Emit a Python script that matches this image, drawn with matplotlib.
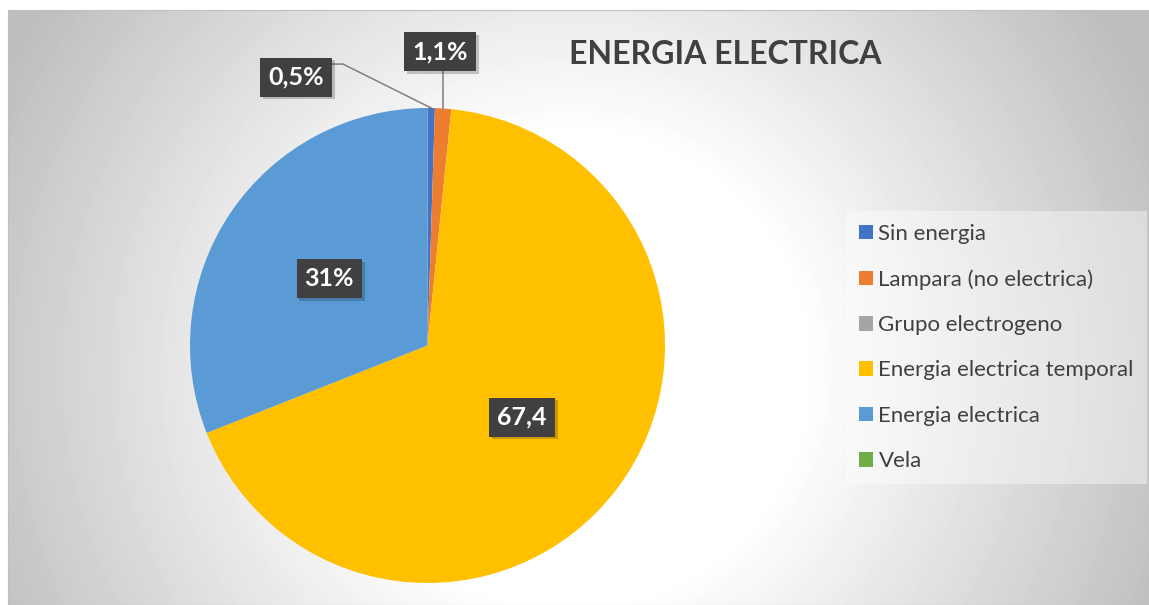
import numpy as np
import matplotlib.pyplot as plt
import matplotlib.patheffects as pe

# Data
categories = ['Sin energia', 'Lampara (no electrica)', 'Grupo electrogeno',
              'Energia electrica temporal', 'Energia electrica', 'Vela']
values = [0.5, 1.1, 0.0, 67.4, 31.0, 0.0]
value_labels = ['0,5%', '1,1%', '', '67,4', '31%', '']
colors = ['#4472C4', '#ED7D31', '#A5A5A5', '#FFC000', '#5B9BD5', '#70AD47']

# labels that sit outside the pie (offset in pie-radius units)
outer_pos = {'0,5%': (-0.554, 1.13), '1,1%': (0.053, 1.236)}

plt.rcParams['font.family'] = ['Lato', 'DejaVu Sans']

W, H = 1149, 605
fig = plt.figure(figsize=(W / 100, H / 100), dpi=100)
fig.patch.set_facecolor('white')

# Chart area with a soft radial gradient
bg = fig.add_axes([8 / W, 0, (W - 8) / W, (H - 10) / H])
yy, xx = np.mgrid[10:H, 8:W]
r = np.hypot(xx - 570, yy - 370) / 620
shade = 255 - 100 * np.clip(r - 0.38, 0, 0.65)
bg.imshow(shade, cmap='gray', vmin=0, vmax=255, extent=(8, W, H, 10),
          aspect='auto', interpolation='bilinear')
bg.set_xticks([])
bg.set_yticks([])
for s in bg.spines.values():
    s.set_color('#c0c0c0')
    s.set_linewidth(0.8)

# Pie
cx, cy, R = 427.5, 345.5, 237.5
ax = fig.add_axes([(cx - R) / W, (H - cy - R) / H, 2 * R / W, 2 * R / H])
wedges, _ = ax.pie(values, colors=colors, startangle=90, counterclock=False,
                   radius=1, wedgeprops=dict(linewidth=0))
ax.set_xlim(-1, 1)
ax.set_ylim(-1, 1)

box = dict(boxstyle='square,pad=0.32', facecolor='#404040', edgecolor='none')
shadow = [pe.withSimplePatchShadow(offset=(2, -2), shadow_rgbFace='black', alpha=0.2),
          pe.Normal()]

for w, lab in zip(wedges, value_labels):
    if not lab:
        continue
    mid = np.deg2rad((w.theta1 + w.theta2) / 2)
    ex, ey = np.cos(mid), np.sin(mid)
    if lab in outer_pos:
        tx, ty = outer_pos[lab]
        if tx < 0:
            ly = ty + 0.055
            ax.plot([tx, -0.356, ex], [ly, ly, ey], color='#7f7f7f', lw=1.1,
                    clip_on=False, zorder=2)
        else:
            ax.plot([ex, ex], [ty, ey], color='#7f7f7f', lw=1.1,
                    clip_on=False, zorder=2)
    else:
        tx, ty = 0.5 * ex, 0.5 * ey
    t = ax.text(tx, ty, lab, ha='center', va='center', color='white',
                fontsize=18, fontweight='bold', bbox=box, zorder=4)
    t.get_bbox_patch().set_path_effects(shadow)

# Title
fig.text(725 / W, 1 - 54 / H, 'ENERGIA ELECTRICA', ha='center', va='center',
         fontsize=23, fontweight='bold', color='#404040')

# Legend
leg = fig.legend(wedges, categories, loc='upper left',
                 bbox_to_anchor=(846 / W, 1 - 211 / H), borderaxespad=0,
                 frameon=True, fancybox=False, facecolor='white',
                 edgecolor='none', framealpha=0.4, prop=dict(size=16),
                 labelcolor='#404040', handlelength=0.63, handleheight=0.63,
                 handletextpad=0.25, labelspacing=1.14, borderpad=0.58)

fig.savefig('out.png', dpi=100)
